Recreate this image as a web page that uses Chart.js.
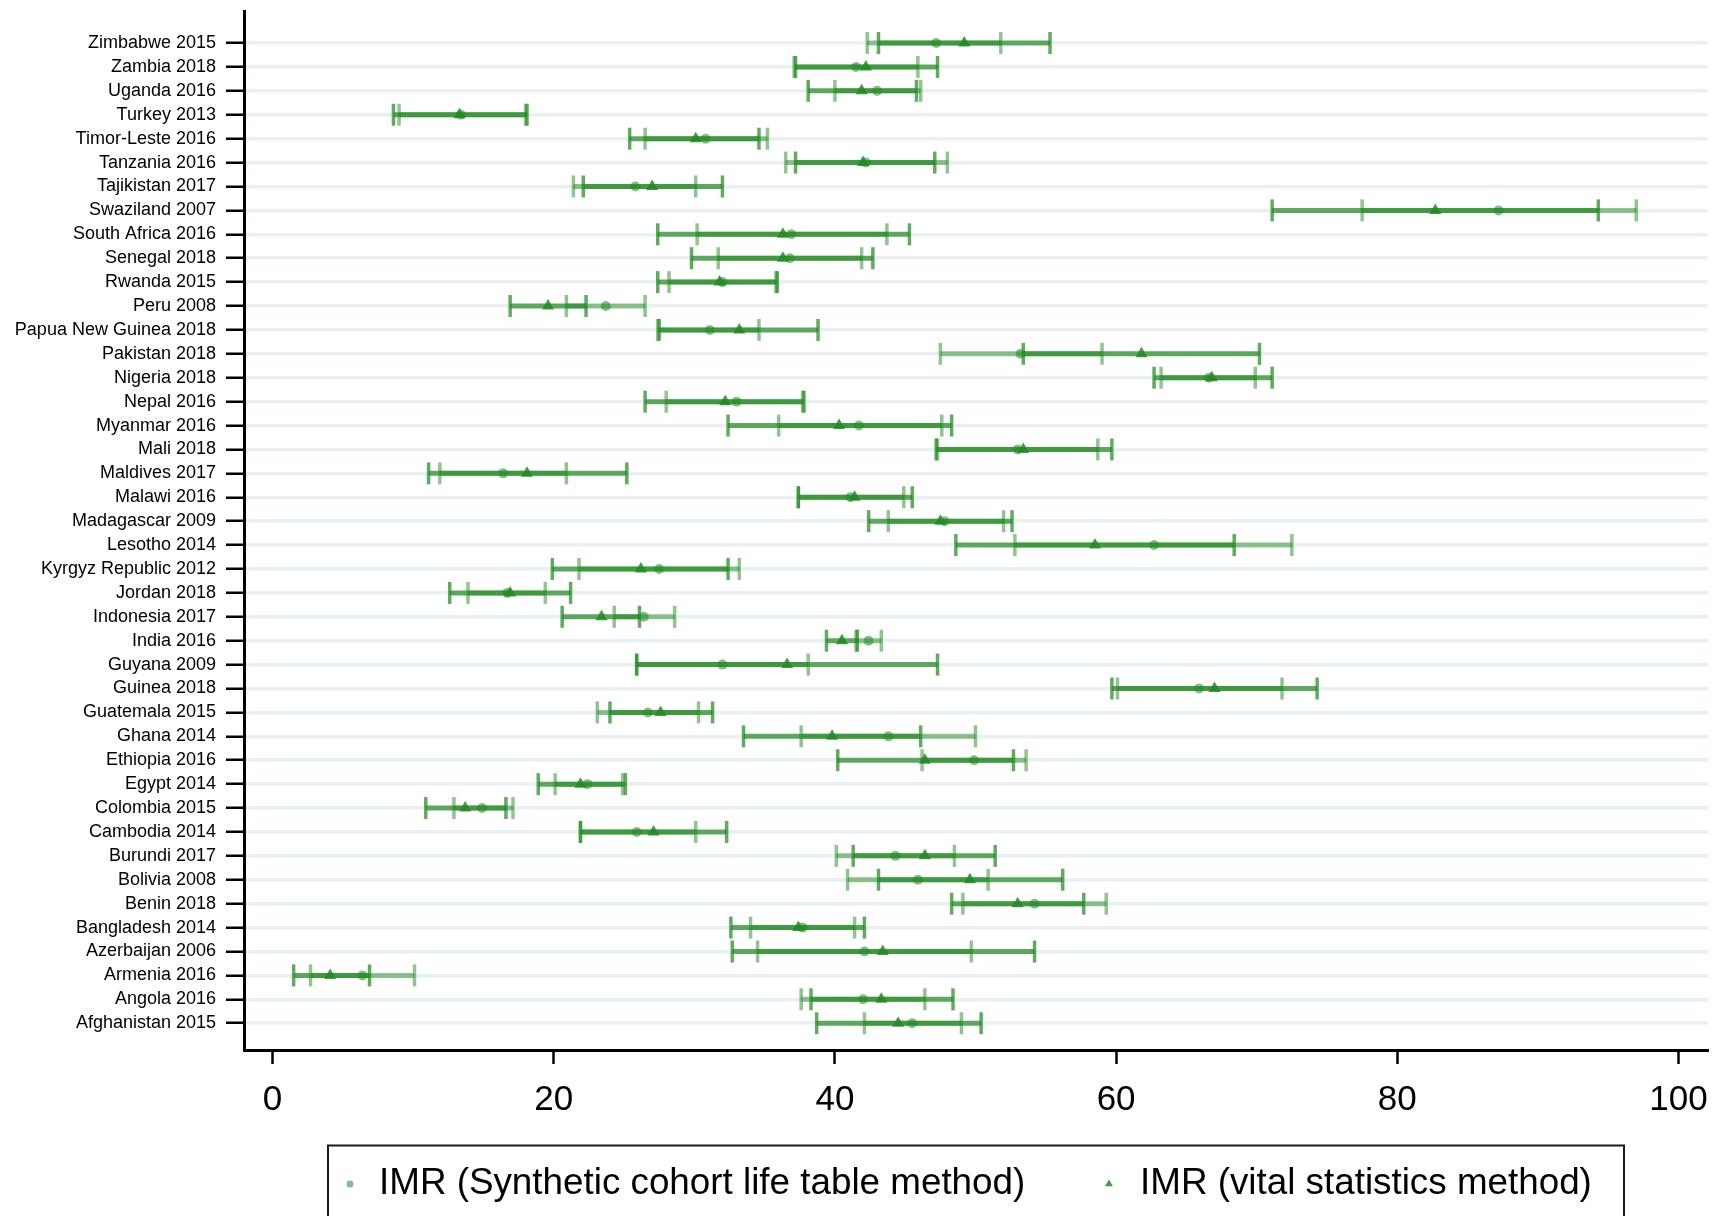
<!DOCTYPE html>
<html>
<head>
<meta charset="utf-8">
<script src="https://cdn.jsdelivr.net/npm/chart.js@4.4.1/dist/chart.umd.min.js"></script>
<style>
html,body{margin:0;padding:0;background:#ffffff;}
#wrap{width:1714px;height:1216px;position:relative;}
</style>
</head>
<body>
<div id="wrap"><canvas id="c" width="1714" height="1216"></canvas></div>
<script>
// ---------- DATA (top of chart to bottom) ----------
const categories = ["Zimbabwe 2015","Zambia 2018","Uganda 2016","Turkey 2013","Timor-Leste 2016","Tanzania 2016","Tajikistan 2017","Swaziland 2007","South Africa 2016","Senegal 2018","Rwanda 2015","Peru 2008","Papua New Guinea 2018","Pakistan 2018","Nigeria 2018","Nepal 2016","Myanmar 2016","Mali 2018","Maldives 2017","Malawi 2016","Madagascar 2009","Lesotho 2014","Kyrgyz Republic 2012","Jordan 2018","Indonesia 2017","India 2016","Guyana 2009","Guinea 2018","Guatemala 2015","Ghana 2014","Ethiopia 2016","Egypt 2014","Colombia 2015","Cambodia 2014","Burundi 2017","Bolivia 2008","Benin 2018","Bangladesh 2014","Azerbaijan 2006","Armenia 2016","Angola 2016","Afghanistan 2015"];

// IMR, synthetic cohort life table method
const synthIMR  = [47.2,41.5,43.0,13.4,30.8,42.2,25.8,87.2,36.9,36.8,32.0,23.7,31.1,53.2,66.6,33.0,41.7,53.0,16.4,41.1,47.8,62.7,27.5,16.7,26.4,42.4,32.0,65.9,26.7,43.8,49.9,22.4,14.9,25.9,44.3,45.9,54.2,37.7,42.1,6.4,42.0,45.5];
const synthLow  = [42.3,37.1,40.0,9.0,26.5,36.5,21.4,77.5,30.2,31.7,28.2,20.9,27.4,47.5,63.2,28.0,36.0,47.3,11.9,37.4,43.8,52.8,21.8,13.9,24.3,41.5,25.9,60.1,23.1,37.6,46.2,20.1,12.9,21.9,40.1,40.9,49.1,34.0,34.5,2.7,37.6,42.1];
const synthHigh = [51.8,45.9,46.1,18.0,35.2,48.0,30.1,97.0,43.7,41.9,35.8,26.5,34.6,59.0,69.9,37.7,47.6,58.7,20.9,44.9,52.0,72.5,33.2,19.4,28.6,43.3,38.1,71.8,30.3,50.0,53.6,24.9,17.1,30.1,48.5,50.9,59.3,41.4,49.7,10.1,46.4,49.0];

// IMR, vital statistics method
const vitalIMR  = [49.2,42.2,41.9,13.3,30.1,42.0,27.0,82.7,36.3,36.3,31.8,19.6,33.2,61.8,66.8,32.2,40.3,53.4,18.1,41.4,47.5,58.5,26.2,16.9,23.4,40.5,36.6,67.0,27.6,39.8,46.4,21.9,13.7,27.1,46.4,49.6,53.0,37.4,43.4,4.1,43.3,44.5];
const vitalLow  = [43.1,37.2,38.1,8.6,25.4,37.2,22.1,71.1,27.4,29.8,27.4,16.9,27.5,53.4,62.7,26.5,32.4,47.2,11.1,37.4,42.4,48.6,19.9,12.6,20.6,39.4,25.9,59.7,24.0,33.5,40.2,18.9,10.9,21.9,41.3,43.1,48.3,32.6,32.7,1.5,38.3,38.7];
const vitalHigh = [55.3,47.3,45.8,18.1,34.6,47.1,32.0,94.3,45.3,42.7,35.9,22.3,38.8,70.2,71.1,37.8,48.3,59.7,25.2,45.5,52.6,68.4,32.4,21.2,26.1,41.6,47.3,74.3,31.3,46.1,52.7,25.1,16.6,32.3,51.4,56.2,57.7,42.1,54.2,6.9,48.4,50.4];

const xTicks = [0,20,40,60,80,100];
const seriesLabels = ["IMR (Synthetic cohort life table method)","IMR (vital statistics method)"];

// ---------- BUILD ----------
const N = categories.length;
const FONT = "'Liberation Sans', Arial, Helvetica, sans-serif";
const SYN_LINE = 'rgba(34,139,34,0.50)';
const VIT_LINE = 'rgba(34,139,34,0.72)';
const SYN_PT = 'rgba(34,139,34,0.55)';
const VIT_PT = 'rgba(34,139,34,0.85)';

function rowY(i){ return N - 1 - i; }
function segments(lo, hi){
  const out = [];
  for (let i = 0; i < N; i++){
    out.push({x: lo[i], y: rowY(i)}, {x: hi[i], y: rowY(i)}, {x: null, y: null});
  }
  return out;
}
function caps(lo, hi){
  const out = [];
  for (let i = 0; i < N; i++){ out.push({x: lo[i], y: rowY(i)}, {x: hi[i], y: rowY(i)}); }
  return out;
}
function pts(v){ return v.map((x, i) => ({x, y: rowY(i)})); }

const datasets = [
  {label: seriesLabels[1], data: pts(vitalIMR), showLine:false, pointStyle:'triangle', pointRadius:7, pointBackgroundColor:VIT_PT, pointBorderWidth:0, legendColor:VIT_PT, legendRadius:4.5},
  {label: seriesLabels[0], data: pts(synthIMR), showLine:false, pointStyle:'circle', pointRadius:5, pointBackgroundColor:SYN_PT, pointBorderWidth:0, legendColor:SYN_PT, legendRadius:3.5},
  {label: 'vcaps', data: caps(vitalLow, vitalHigh), showLine:false, pointStyle:'line', rotation:90, pointRadius:11, pointBorderColor:VIT_LINE, pointBorderWidth:3.5},
  {label: 'scaps', data: caps(synthLow, synthHigh), showLine:false, pointStyle:'line', rotation:90, pointRadius:11, pointBorderColor:SYN_LINE, pointBorderWidth:3.5},
  {label: 'vci', data: segments(vitalLow, vitalHigh), showLine:true, spanGaps:false, borderColor:VIT_LINE, borderWidth:5, pointRadius:0, borderCapStyle:'butt'},
  {label: 'sci', data: segments(synthLow, synthHigh), showLine:true, spanGaps:false, borderColor:SYN_LINE, borderWidth:5, pointRadius:0, borderCapStyle:'butt'}
];

const boxLegend = {
  id: 'boxLegend',
  afterDraw(chart){
    const ctx = chart.ctx, a = chart.chartArea;
    const L = a.left + 84, R = a.right - 84, T = a.bottom + 95.5;
    ctx.save();
    ctx.strokeStyle = '#1a1a1a';
    ctx.lineWidth = 2;
    ctx.strokeRect(L, T, R - L, 300);
    const items = [
      {ds: chart.data.datasets[1], mx: L + 22, tx: L + 51},
      {ds: chart.data.datasets[0], mx: L + 781, tx: L + 812}
    ];
    const cy = T + 38.5;
    ctx.font = "36.8px " + FONT;
    ctx.textBaseline = 'middle';
    ctx.textAlign = 'left';
    items.forEach(it => {
      ctx.fillStyle = it.ds.legendColor;
      Chart.helpers.drawPoint(ctx, {pointStyle: it.ds.pointStyle, radius: it.ds.legendRadius, rotation: 0, borderWidth: 0}, it.mx, cy);
      ctx.fillStyle = '#000';
      ctx.fillText(it.ds.label, it.tx, cy);
    });
    ctx.restore();
  }
};

new Chart(document.getElementById('c'), {
  type: 'scatter',
  data: {datasets},
  plugins: [boxLegend],
  options: {
    responsive: false,
    animation: false,
    devicePixelRatio: 1,
    layout: {autoPadding: false, padding: {left: 0, right: 6, top: 11, bottom: 0}},
    plugins: {legend: {display: false}, tooltip: {enabled: false}},
    scales: {
      x: {
        type: 'linear', min: -2.03, max: 102.1,
        afterBuildTicks: s => { s.ticks = xTicks.map(v => ({value: v})); },
        afterFit: s => { s.height = 166; s.paddingLeft = 0; s.paddingRight = 0; },
        ticks: {font: {size: 35, family: FONT}, color: '#000', padding: 15, autoSkip: false, maxRotation: 0},
        grid: {drawOnChartArea: false, drawTicks: true, tickLength: 14, tickColor: '#000', tickWidth: 2.5},
        border: {display: true, color: '#000', width: 3}
      },
      y: {
        type: 'linear', min: -1.12, max: 42.34,
        afterBuildTicks: s => { s.ticks = categories.map((c, i) => ({value: i})); },
        afterFit: s => { s.width = 244; s.paddingTop = 0; s.paddingBottom = 0; },
        ticks: {callback: v => categories[N - 1 - v], font: {size: 18, family: FONT}, color: '#000', padding: 10, autoSkip: false},
        grid: {color: '#e8f0f2', lineWidth: 3.5, drawTicks: true, tickLength: 18, tickColor: '#000', tickWidth: 2.5},
        border: {display: true, color: '#000', width: 3}
      }
    }
  }
});
</script>
</body>
</html>
